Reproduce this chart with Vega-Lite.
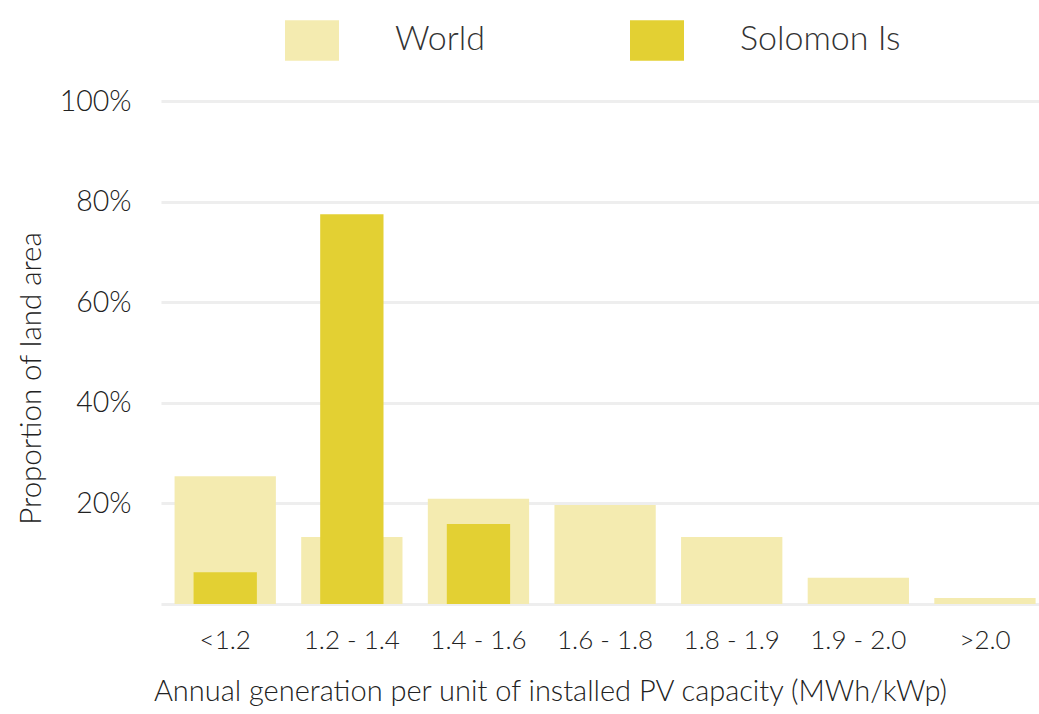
{
  "$schema": "https://vega.github.io/schema/vega-lite/v6.json",
  "autosize": "none",
  "width": 878,
  "height": 503,
  "padding": {"left": 161, "top": 101, "right": 0, "bottom": 110},
  "background": "white",
  "data": {
    "values": [
      {"band": "<1.2", "series": "World", "share": 25.4},
      {"band": "1.2 - 1.4", "series": "World", "share": 13.3},
      {"band": "1.4 - 1.6", "series": "World", "share": 20.9},
      {"band": "1.6 - 1.8", "series": "World", "share": 19.7},
      {"band": "1.8 - 1.9", "series": "World", "share": 13.3},
      {"band": "1.9 - 2.0", "series": "World", "share": 5.2},
      {"band": ">2.0", "series": "World", "share": 1.2},
      {"band": "<1.2", "series": "Solomon Is", "share": 6.3},
      {"band": "1.2 - 1.4", "series": "Solomon Is", "share": 77.5},
      {"band": "1.4 - 1.6", "series": "Solomon Is", "share": 15.9},
      {"band": "1.6 - 1.8", "series": "Solomon Is", "share": 0},
      {"band": "1.8 - 1.9", "series": "Solomon Is", "share": 0},
      {"band": "1.9 - 2.0", "series": "Solomon Is", "share": 0},
      {"band": ">2.0", "series": "Solomon Is", "share": 0}
    ]
  },
  "encoding": {
    "x": {
      "field": "band",
      "type": "nominal",
      "sort": null,
      "scale": {"paddingInner": 0.2, "paddingOuter": 0.067, "align": 0.8},
      "axis": {
        "title": "Annual generation per unit of installed PV capacity (MWh/kWp)",
        "labelAngle": 0,
        "labelFontSize": 26,
        "labelPadding": 23,
        "labelColor": "#222222",
        "labelFontWeight": 300,
        "ticks": false,
        "domain": false,
        "titleFontSize": 29,
        "titleFontWeight": 300,
        "titleColor": "#222222",
        "titleX": 389,
        "titleY": 102,
        "titleBaseline": "bottom"
      }
    },
    "y": {
      "field": "share",
      "type": "quantitative",
      "scale": {"domain": [0, 100], "nice": false},
      "axis": {
        "title": "Proportion of land area",
        "values": [0, 20, 40, 60, 80, 100],
        "labelExpr": "datum.value == 0 ? '' : datum.value + '%'",
        "labelFontSize": 28.5,
        "labelFontWeight": 300,
        "labelColor": "#222222",
        "labelPadding": 30,
        "ticks": false,
        "domain": false,
        "grid": true,
        "gridColor": "#eeeeee",
        "gridWidth": 3,
        "titleFontSize": 29.5,
        "titleFontWeight": 300,
        "titleColor": "#222222",
        "titleX": -115,
        "titleY": 277,
        "titleAlign": "center",
        "titleBaseline": "bottom"
      }
    },
    "color": {
      "field": "series",
      "type": "nominal",
      "scale": {"domain": ["World", "Solomon Is"], "range": ["#f4ebb0", "#e3d033"]},
      "legend": {
        "title": null,
        "orient": "none",
        "legendX": 124,
        "legendY": -88,
        "direction": "horizontal",
        "symbolType": "M-1,-0.75H1V0.75H-1Z",
        "symbolSize": 2916,
        "symbolStrokeWidth": 0,
        "symbolOpacity": 1,
        "labelFontSize": 34,
        "labelFontWeight": 300,
        "labelColor": "#333333",
        "labelOffset": 56,
        "columnPadding": 144,
        "labelLimit": 400
      }
    }
  },
  "layer": [
    {
      "transform": [{"filter": "datum.series == 'World'"}],
      "mark": {"type": "bar", "opacity": 1}
    },
    {
      "transform": [{"filter": "datum.series == 'Solomon Is'"}],
      "mark": {"type": "bar", "opacity": 1, "width": {"band": 0.625}}
    }
  ],
  "config": {
    "font": "Lato",
    "view": {"stroke": null}
  }
}
